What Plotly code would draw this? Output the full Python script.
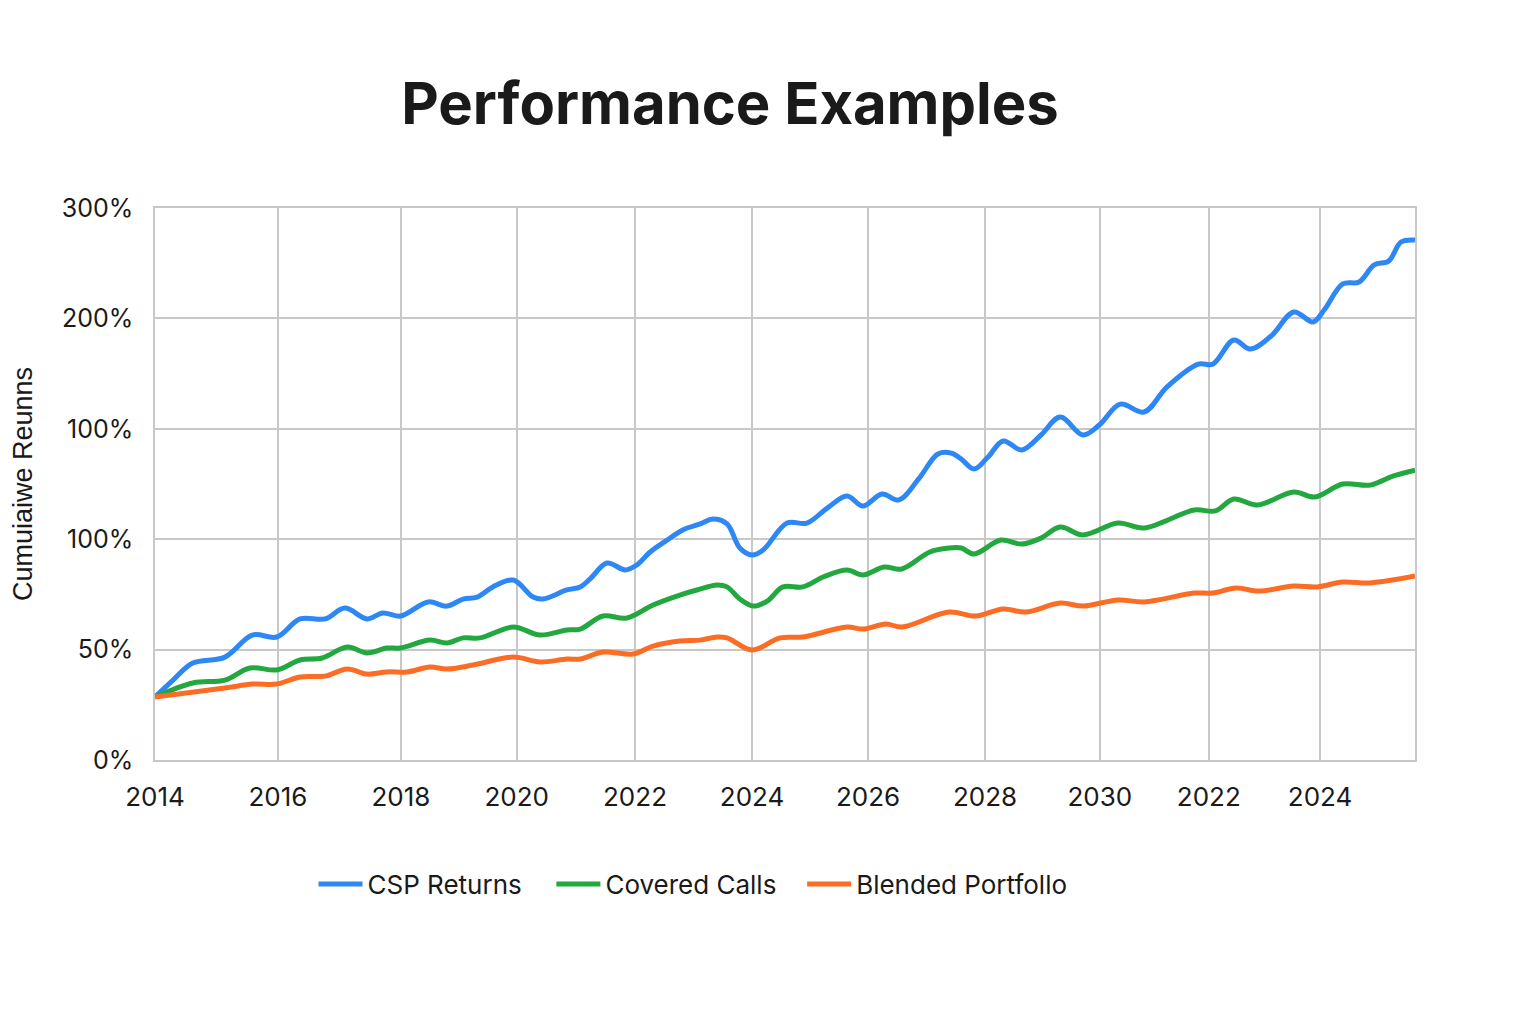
import plotly.graph_objects as go

# ---- data (x in decimal years on the chart's axis, y in axis units) ----
csp_x = [2014.00, 2014.31, 2014.65, 2015.20, 2015.67, 2016.09, 2016.49, 2016.92, 2017.26, 2017.64,
         2017.91, 2018.21, 2018.69, 2019.01, 2019.29, 2019.53, 2019.80, 2020.15, 2020.49, 2020.66,
         2021.07, 2021.30, 2021.47, 2021.76, 2022.07, 2022.27, 2022.50, 2022.79, 2023.06, 2023.36,
         2023.58, 2023.82, 2024.04, 2024.25, 2024.44, 2024.85, 2025.19, 2025.54, 2025.88, 2026.15,
         2026.48, 2026.77, 2027.12, 2027.44, 2027.67, 2027.84, 2028.06, 2028.30, 2028.56, 2028.88,
         2029.21, 2029.54, 2029.93, 2030.21, 2030.57, 2030.98, 2031.37, 2031.91, 2032.16, 2032.52,
         2032.80, 2033.16, 2033.55, 2033.88, 2034.07, 2034.39, 2034.67, 2034.93, 2035.18, 2035.39,
         2035.63]
csp_y = [28.5, 36.2, 43.9, 46.6, 56.6, 55.7, 63.9, 63.9, 68.8, 63.9,
         66.6, 65.2, 71.6, 69.7, 72.9, 73.8, 78.4, 81.5, 73.8, 72.9,
         77.0, 78.4, 82.0, 89.2, 86.1, 88.3, 94.2, 99.6, 104.2, 106.9,
         109.1, 106.9, 96.0, 92.8, 95.1, 107.3, 107.3, 114.1, 119.6, 115.0,
         120.5, 117.8, 127.7, 138.6, 139.0, 136.3, 131.8, 137.2, 144.5, 140.4,
         147.2, 155.3, 147.2, 151.7, 161.2, 157.6, 168.9, 179.3, 179.3, 190.2,
         186.1, 192.0, 202.9, 198.4, 203.8, 215.6, 216.5, 224.2, 226.0, 234.6,
         235.5]

cc_x = [2014.00, 2014.65, 2015.20, 2015.63, 2016.09, 2016.49, 2016.87, 2017.30, 2017.64, 2017.98,
        2018.21, 2018.72, 2019.01, 2019.29, 2019.58, 2020.15, 2020.61, 2021.07, 2021.30, 2021.69,
        2022.10, 2022.55, 2023.01, 2023.30, 2023.65, 2023.82, 2024.04, 2024.27, 2024.51, 2024.78,
        2025.12, 2025.47, 2025.88, 2026.15, 2026.52, 2026.82, 2027.30, 2027.63, 2027.84, 2028.06,
        2028.52, 2028.88, 2029.21, 2029.54, 2029.93, 2030.53, 2030.98, 2031.84, 2032.20, 2032.52,
        2032.92, 2033.55, 2033.91, 2034.39, 2034.86, 2035.25, 2035.63]
cc_y = [28.5, 34.9, 36.2, 41.7, 40.8, 45.3, 46.2, 51.2, 48.5, 50.7,
        50.7, 54.3, 53.0, 55.3, 55.3, 60.2, 56.6, 58.9, 59.3, 65.2,
        64.3, 70.2, 74.7, 77.0, 79.3, 78.4, 72.9, 69.7, 72.0, 78.4,
        78.4, 82.9, 86.1, 83.8, 87.4, 86.5, 94.2, 96.0, 96.0, 93.3,
        99.6, 97.8, 100.5, 105.5, 101.9, 107.3, 105.1, 113.2, 112.8, 118.2,
        115.5, 121.4, 119.1, 125.0, 124.5, 128.6, 131.3]

bp_x = [2014.00, 2015.20, 2015.68, 2016.09, 2016.49, 2016.92, 2017.30, 2017.64, 2017.98, 2018.33,
        2018.72, 2019.01, 2019.46, 2020.15, 2020.61, 2021.07, 2021.30, 2021.69, 2022.21, 2022.55,
        2023.01, 2023.36, 2023.65, 2023.82, 2024.25, 2024.73, 2025.12, 2025.88, 2026.15, 2026.55,
        2026.82, 2027.63, 2028.09, 2028.56, 2028.95, 2029.54, 2029.93, 2030.53, 2030.98, 2031.84,
        2032.16, 2032.56, 2032.95, 2033.55, 2033.95, 2034.39, 2034.86, 2035.63]
bp_y = [28.5, 32.6, 34.4, 34.4, 37.6, 38.0, 41.2, 38.9, 39.9, 39.9,
        42.1, 41.2, 43.0, 46.6, 44.4, 45.7, 45.7, 48.9, 48.0, 51.6,
        53.9, 54.3, 55.7, 55.3, 49.8, 55.3, 55.7, 60.2, 59.3, 61.6,
        60.2, 67.0, 65.2, 68.4, 67.0, 71.1, 69.7, 72.5, 71.6, 75.6,
        75.6, 77.9, 76.5, 78.8, 78.4, 80.6, 80.2, 83.3]

series_names = ["CSP Returns", "Covered Calls", "Blended Portfollo"]

x_tickvals = [2014.0, 2016.11, 2018.22, 2020.21, 2022.24, 2024.25, 2026.24, 2028.25, 2030.22, 2032.09, 2034.0]
x_ticktext = ["2014", "2016", "2018", "2020", "2022", "2024", "2026", "2028", "2030", "2022", "2024"]
y_tickvals = [0, 50, 100, 150, 200, 250]
y_ticktext = ["0%", "50%", "100%", "100%", "200%", "300%"]

colors = ["#2d87f5", "#22a83f", "#fb6d25"]
legend_ids = ["legend", "legend2", "legend3"]
legend_x = [0.1258, 0.3146, 0.5136]

fig = go.Figure()
for xs, ys, name, c, lg in zip([csp_x, cc_x, bp_x], [csp_y, cc_y, bp_y], series_names, colors, legend_ids):
    fig.add_trace(go.Scatter(x=xs, y=ys, name=name, mode="lines", legend=lg,
                             line=dict(color=c, width=5, shape="spline", smoothing=1.0)))

legend_font = dict(family="Inter", size=26, color="#1a1a1a")
legends = {}
for lg, lx in zip(legend_ids, legend_x):
    legends[lg] = dict(orientation="h", x=lx, xanchor="left", y=-0.225, yanchor="middle",
                       font=legend_font, itemwidth=44, bgcolor="rgba(0,0,0,0)")

grid = "#c8c8c8"
fig.update_layout(
    width=1536, height=1021,
    paper_bgcolor="white", plot_bgcolor="white",
    margin=dict(l=147, r=129, t=200, b=269, autoexpand=False),
    title=dict(text="<b>Performance Examples</b>", x=722/1536, xanchor="center",
               y=1 - 96/1021, yanchor="middle", xref="container", yref="container",
               font=dict(family="Inter", size=58, color="#1a1a1a")),
    font=dict(family="Inter", color="#1a1a1a"),
    showlegend=True,
    **legends,
)
fig.update_xaxes(range=[2014, 2035.63], tickvals=x_tickvals, ticktext=x_ticktext,
                 showgrid=True, gridcolor=grid, gridwidth=1.5,
                 showline=True, linecolor=grid, linewidth=1.5, mirror=True,
                 ticks="", ticklabelstandoff=13, zeroline=False,
                 tickfont=dict(family="Inter", size=26, color="#1a1a1a"))
fig.update_yaxes(range=[0, 250], tickvals=y_tickvals, ticktext=y_ticktext,
                 showgrid=True, gridcolor=grid, gridwidth=1.5,
                 showline=True, linecolor=grid, linewidth=1.5, mirror=True,
                 ticks="", ticklabelstandoff=15, zeroline=False, automargin=True,
                 tickfont=dict(family="Inter", size=25, color="#1a1a1a"),
                 title=dict(text="Cumuiaiwe Reunns", standoff=33,
                            font=dict(family="Liberation Sans", size=27, color="#1a1a1a")))

fig.write_html("out.html")
